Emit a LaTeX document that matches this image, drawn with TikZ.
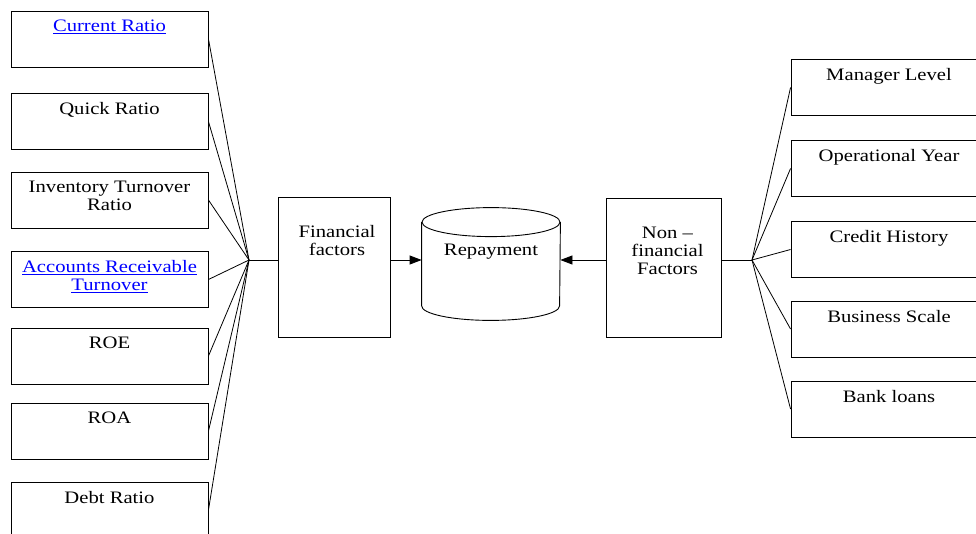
\documentclass[tikz,border=0pt]{standalone}
\usepackage{fontspec}
\setmainfont{Liberation Serif}[FakeStretch=1.18]
\usepackage{xcolor}
\usetikzlibrary{arrows.meta}
\tikzset{ fact_box/.style = {rectangle, draw, line width=0.9pt, minimum width=197pt, minimum height=56pt} }
\tikzset{ box_text/.style = {anchor=north, inner sep=0pt, align=center, font=\fontsize{17.5}{18}\selectfont, yshift=-9pt} }
\tikzset{ link_text/.style = {box_text, text=blue} }
\tikzset{ to_repay/.style = {-{Triangle[length=12pt, width=9pt]}} }

\begin{document}
\begin{tikzpicture}[x=1pt, y=-1pt, line width=0.8pt]
        \useasboundingbox (0,0) rectangle (976,533);
        \node[fact_box, label={[link_text]north:\underline{Current Ratio}}] (cr) at (109.5,39) {};
        \node[fact_box, label={[box_text]north:Quick Ratio}] (qr) at (109.5,121.5) {};
        \node[fact_box, label={[box_text]north:Inventory Turnover\\Ratio}] (itr) at (109.5,200) {};
        \node[fact_box, label={[link_text]north:\underline{Accounts Receivable}\\\underline{Turnover}}] (art) at (109.5,279.5) {};
        \node[fact_box, label={[box_text]north:ROE}] (roe) at (109.5,356) {};
        \node[fact_box, label={[box_text]north:ROA}] (roa) at (109.5,431) {};
        \node[fact_box, label={[box_text]north:Debt Ratio}] (dr) at (109.5,510) {};
        \coordinate (jl) at (249,260);
        \node[fact_box, minimum width=112pt, minimum height=140pt, label={[box_text, yshift=-19pt, xshift=3pt]north:Financial\\factors}] (fin) at (334,267) {};
        \node[rectangle, minimum width=138pt, minimum height=112pt, label={[box_text, yshift=-27pt]north:Repayment}] (repay) at (491,264) {};
        \draw[line width=0.9pt] ([yshift=-14.5pt]repay.north) ellipse [x radius=69pt, y radius=14.5pt];
        \draw[line width=0.9pt] ([yshift=-14.5pt]repay.north west) -- ([yshift=14.5pt]repay.south west)
            arc[start angle=180, end angle=360, x radius=69pt, y radius=14.5pt] -- ([yshift=-14.5pt]repay.north east);
        \node[fact_box, minimum width=115pt, minimum height=139pt, label={[box_text, yshift=-20pt, xshift=4pt]north:Non --\\financial\\Factors}] (nonfin) at (663.5,267.5) {};
        \coordinate (jr) at (752,260);
        \node[fact_box, minimum width=196pt, label={[box_text]north:Manager Level}] (ml) at (889,87.5) {};
        \node[fact_box, minimum width=196pt, label={[box_text]north:Operational Year}] (oy) at (889,168.5) {};
        \node[fact_box, minimum width=196pt, label={[box_text]north:Credit History}] (ch) at (889,249.5) {};
        \node[fact_box, minimum width=196pt, label={[box_text]north:Business Scale}] (bs) at (889,329) {};
        \node[fact_box, minimum width=196pt, label={[box_text]north:Bank loans}] (bl) at (889,409) {};
        \draw (cr.east) -- (jl);
        \draw (qr.east) -- (jl);
        \draw (itr.east) -- (jl);
        \draw (art.east) -- (jl);
        \draw (roe.east) -- (jl);
        \draw (roa.east) -- (jl);
        \draw (dr.east) -- (jl);
        \draw (jl) -- (jl -| fin.west);
        \draw[to_repay] (jl -| fin.east) -- (jl -| repay.west);
        \draw[to_repay] (jl -| nonfin.west) -- (jl -| repay.east);
        \draw (jl -| nonfin.east) -- (jr);
        \draw (jr) -- (ml.west);
        \draw (jr) -- (oy.west);
        \draw (jr) -- (ch.west);
        \draw (jr) -- (bs.west);
        \draw (jr) -- (bl.west);
    \end{tikzpicture}
\end{document}
